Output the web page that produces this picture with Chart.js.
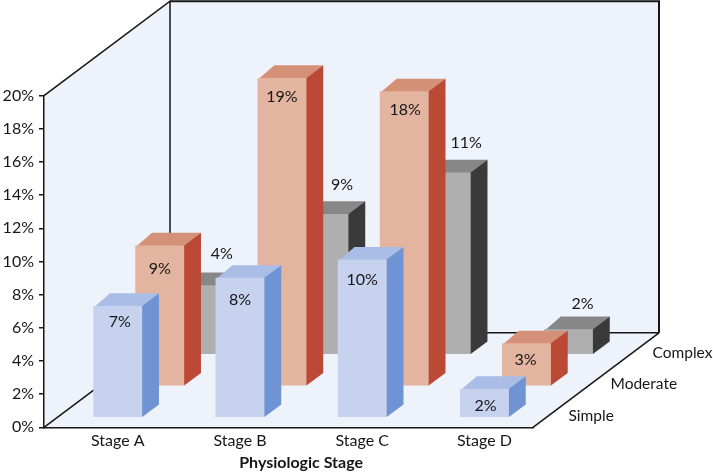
<!DOCTYPE html>
<html>
<head>
<meta charset="utf-8">
<style>
  html, body { margin: 0; padding: 0; background: #fff; overflow: hidden; }
  canvas { display: block; }
</style>
<script src="https://cdn.jsdelivr.net/npm/chart.js@4"></script>
</head>
<body>
<canvas id="chart" width="713" height="472"></canvas>
<script>
// Values (bar heights, labels are the rounded values)
const stages = ['Stage A', 'Stage B', 'Stage C', 'Stage D'];
const simpleValues = [6.75, 8.45, 9.55, 1.75];
const moderateValues = [8.5, 18.6, 17.8, 2.6];
const complexValues = [4.2, 8.5, 11, 1.55];
const yTicksMax = 20;

const FONT = 'Lato, sans-serif';
const INK = '#161616';
const WALL = '#eef2fa';

// Depth of the floor in pixels, split into three rows
const depthX = 126;
const depthY = -94.5;
const rows = 3;
const gapShare = 0.3;
const barShare = 0.4;

// Hand nudges for the value labels, [dx, dy] per row and stage
const labelNudges = {
    Simple: [[2, -3], [0, 3], [0, 1], [1, -2]],
    Moderate: [[0, 4], [0, 0], [1, 0], [-1, -2]],
    Complex: [[2, -1], [0, 1], [2, 0], [-4, 5]]
};

function rowShift(index) {
    const t = (index + gapShare) / rows;
    return { x: depthX * t, y: depthY * t };
}

const faces = {
    Simple: { top: '#a9bde6', side: '#6f93d3' },
    Moderate: { top: '#d49178', side: '#ba4935' },
    Complex: { top: '#878787', side: '#3a3a3a' }
};

function polygon(ctx, points, fill) {
    ctx.beginPath();
    points.forEach((p, i) => i ? ctx.lineTo(p[0], p[1]) : ctx.moveTo(p[0], p[1]));
    ctx.closePath();
    ctx.fillStyle = fill;
    ctx.fill();
}

const box3d = {
    id: 'box3d',
    beforeDraw(chart) {
        const { ctx, chartArea: a } = chart;
        const left = a.left, right = a.right, top = a.top, bottom = a.bottom;
        const dx = depthX, dy = depthY;
        // walls and floor
        polygon(ctx, [[left, top], [left + dx, top + dy], [left + dx, bottom + dy], [left, bottom]], WALL);
        polygon(ctx, [[left + dx, top + dy], [right + dx, top + dy], [right + dx, bottom + dy], [left + dx, bottom + dy]], WALL);
        polygon(ctx, [[left, bottom], [right, bottom], [right + dx, bottom + dy], [left + dx, bottom + dy]], WALL);
        ctx.strokeStyle = INK;
        ctx.lineWidth = 1.5;
        ctx.beginPath();
        ctx.moveTo(left, top); ctx.lineTo(left + dx, top + dy);
        ctx.lineTo(left + dx, bottom + dy); ctx.lineTo(right + dx, bottom + dy);
        ctx.moveTo(left, bottom); ctx.lineTo(left + dx, bottom + dy);
        ctx.moveTo(right, bottom); ctx.lineTo(right + dx, bottom + dy);
        ctx.stroke();
        // top and right edges of the back wall are heavier
        ctx.lineWidth = 2;
        ctx.beginPath();
        ctx.moveTo(left + dx, top + dy); ctx.lineTo(right + dx, top + dy);
        ctx.lineTo(right + dx, bottom + dy);
        ctx.stroke();
    },
    beforeDatasetDraw(chart, args) {
        const { ctx } = chart;
        const shift = rowShift(args.index);
        const ds = chart.data.datasets[args.index];
        const sx = depthX * barShare / rows;
        const sy = depthY * barShare / rows;
        ctx.save();
        ctx.translate(shift.x, shift.y);
        args.meta.data.forEach(el => {
            const l = el.x - el.width / 2;
            const r = el.x + el.width / 2;
            // faces run a little under the front so no seam shows
            polygon(ctx, [[l + 1, el.y + 1], [l + sx, el.y + sy], [r + sx, el.y + sy], [r - 1, el.y + 1]], faces[ds.label].top);
            polygon(ctx, [[r - 1, el.y + 1], [r, el.y], [r + sx, el.y + sy], [r + sx, el.base + sy], [r, el.base], [r - 1, el.base - 1]], faces[ds.label].side);
        });
    },
    afterDatasetDraw(chart) {
        chart.ctx.restore();
    },
    afterDraw(chart) {
        const { ctx, chartArea: a } = chart;
        ctx.save();
        ctx.fillStyle = INK;
        ctx.textBaseline = 'middle';
        chart.data.datasets.forEach((ds, i) => {
            const shift = rowShift(i);
            const meta = chart.getDatasetMeta(i);
            ctx.font = '16px ' + FONT;
            ctx.textAlign = 'center';
            meta.data.forEach((el, j) => {
                const text = Math.round(ds.data[j]) + '%';
                const nudge = labelNudges[ds.label][j];
                if (ds.label === 'Complex') {
                    ctx.fillText(text, el.x + shift.x + 18 + nudge[0], el.y + shift.y - 30 + nudge[1]);
                } else {
                    ctx.fillText(text, el.x + shift.x + nudge[0], el.y + shift.y + 19 + nudge[1]);
                }
            });
            // row names along the right floor edge
            const mid = (i + 0.5) / rows;
            ctx.textAlign = 'left';
            ctx.font = '15.5px ' + FONT;
            ctx.fillText(ds.label, a.right + depthX * mid + 14.5, a.bottom + depthY * mid + 4);
        });
        // axis title, centred under the front row like the stage names
        ctx.textAlign = 'center';
        ctx.font = 'bold 16px ' + FONT;
        ctx.fillText('Physiologic Stage', (a.left + a.right) / 2 + rowShift(0).x, 463);
        ctx.restore();
    }
};

new Chart(document.getElementById('chart'), {
    type: 'bar',
    data: {
        labels: stages,
        datasets: [
            { label: 'Simple', data: simpleValues, backgroundColor: '#c6d2ee', clip: false },
            { label: 'Moderate', data: moderateValues, backgroundColor: '#e3b5a0', clip: false },
            { label: 'Complex', data: complexValues, backgroundColor: '#afafb0', clip: false }
        ]
    },
    options: {
        responsive: false,
        animation: false,
        events: [],
        layout: { padding: { top: 95.7, right: 180, left: 0, bottom: 0 } },
        datasets: { bar: { grouped: false, barPercentage: barShare, categoryPercentage: 1, borderWidth: 0 } },
        plugins: { legend: { display: false }, tooltip: { enabled: false } },
        scales: {
            x: {
                afterFit(scale) { scale.height = 44.7; },
                grid: { display: false },
                border: { display: true, color: INK, width: 1.5 },
                ticks: {
                    color: INK,
                    font: { family: FONT, size: 16 },
                    labelOffset: rowShift(0).x,
                    padding: -4,
                    maxRotation: 0,
                    autoSkip: false
                }
            },
            y: {
                min: 0,
                max: yTicksMax,
                afterFit(scale) { scale.width = 44; },
                grid: { drawOnChartArea: false, color: INK, lineWidth: 1.5, tickLength: 5 },
                border: { display: true, color: INK, width: 1.5 },
                ticks: {
                    stepSize: 2,
                    color: INK,
                    font: { family: FONT, size: 16 },
                    padding: 5,
                    callback: v => v + '%'
                }
            }
        }
    },
    plugins: [box3d]
});
</script>
</body>
</html>
